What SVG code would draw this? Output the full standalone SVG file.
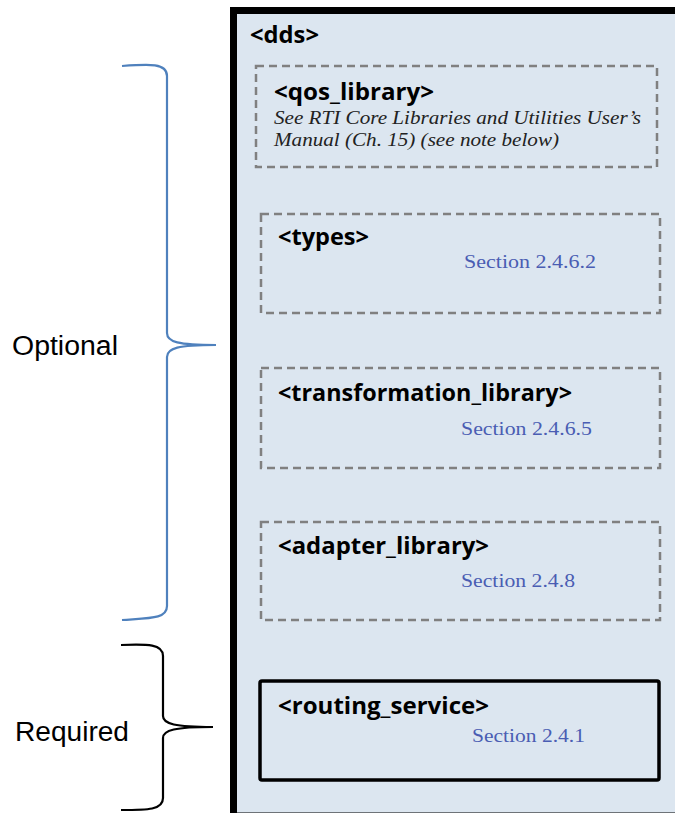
<svg xmlns="http://www.w3.org/2000/svg" width="675" height="813" viewBox="0 0 675 813">
<style>
.title{font-family:"Open Sans","Noto Sans",sans-serif;font-weight:bold;font-size:23.5px;fill:#000}
.sec{font-family:"Liberation Serif",serif;font-size:18px;fill:#4a5db3}
.note{font-family:"Liberation Serif",serif;font-style:italic;font-size:18px;fill:#222}
.dash{fill:none;stroke:#808080;stroke-width:2.5;stroke-dasharray:8 5}
.lbl{font-family:"Liberation Sans",Arial,sans-serif;font-size:27px;fill:#000}
</style>
<rect width="675" height="813" fill="#fff"/>
<g id="dds">
<rect x="233.5" y="10.5" width="500" height="805.5" fill="#dce6f0" stroke="#000" stroke-width="7"/>
<text class="title" x="250" y="43" textLength="69" lengthAdjust="spacingAndGlyphs">&lt;dds&gt;</text>
</g>
<g id="qos_library">
<rect class="dash" x="256" y="66" width="401" height="101"/>
<text class="title" x="274" y="100" textLength="160" lengthAdjust="spacingAndGlyphs">&lt;qos_library&gt;</text>
<text class="note" x="274" y="124" textLength="367" lengthAdjust="spacingAndGlyphs">See RTI Core Libraries and Utilities User’s</text>
<text class="note" x="274" y="146" textLength="285" lengthAdjust="spacingAndGlyphs">Manual (Ch. 15) (see note below)</text>
</g>
<g id="types">
<rect class="dash" x="261" y="214" width="399" height="99"/>
<text class="title" x="278" y="245" textLength="91" lengthAdjust="spacingAndGlyphs">&lt;types&gt;</text>
<text class="sec" x="464" y="268" textLength="132" lengthAdjust="spacingAndGlyphs">Section 2.4.6.2</text>
</g>
<g id="transformation_library">
<rect class="dash" x="261" y="368" width="399" height="100"/>
<text class="title" x="278" y="401" textLength="294" lengthAdjust="spacingAndGlyphs">&lt;transformation_library&gt;</text>
<text class="sec" x="461" y="435" textLength="131" lengthAdjust="spacingAndGlyphs">Section 2.4.6.5</text>
</g>
<g id="adapter_library">
<rect class="dash" x="261" y="522" width="399" height="98"/>
<text class="title" x="278" y="554" textLength="211" lengthAdjust="spacingAndGlyphs">&lt;adapter_library&gt;</text>
<text class="sec" x="461" y="587" textLength="114" lengthAdjust="spacingAndGlyphs">Section 2.4.8</text>
</g>
<g id="routing_service">
<rect x="260" y="681" width="399" height="99" rx="2" fill="none" stroke="#000" stroke-width="3.5"/>
<text class="title" x="278" y="714" textLength="211" lengthAdjust="spacingAndGlyphs">&lt;routing_service&gt;</text>
<text class="sec" x="472" y="742" textLength="113" lengthAdjust="spacingAndGlyphs">Section 2.4.1</text>
</g>
<g id="connectors" fill="none" stroke-width="2.2">
<path d="M122,66 C150,64 167,63 167,76 L167,333 C167,342 178,345 216,345 C178,345 167,348 167,357 L167,606 C167,619 150,618 122,620" stroke="#4f81bd"/>
<path d="M121,645 C148,644 163,644 163,656 L163,716 C163,724 175,727 213,727 C175,727 163,730 163,738 L163,798 C163,810 148,810 121,810" stroke="#000"/>
</g>
<g id="labels">
<text class="lbl" x="12" y="355" textLength="106" lengthAdjust="spacingAndGlyphs">Optional</text>
<text class="lbl" x="15" y="741" textLength="114" lengthAdjust="spacingAndGlyphs">Required</text>
</g>
</svg>
